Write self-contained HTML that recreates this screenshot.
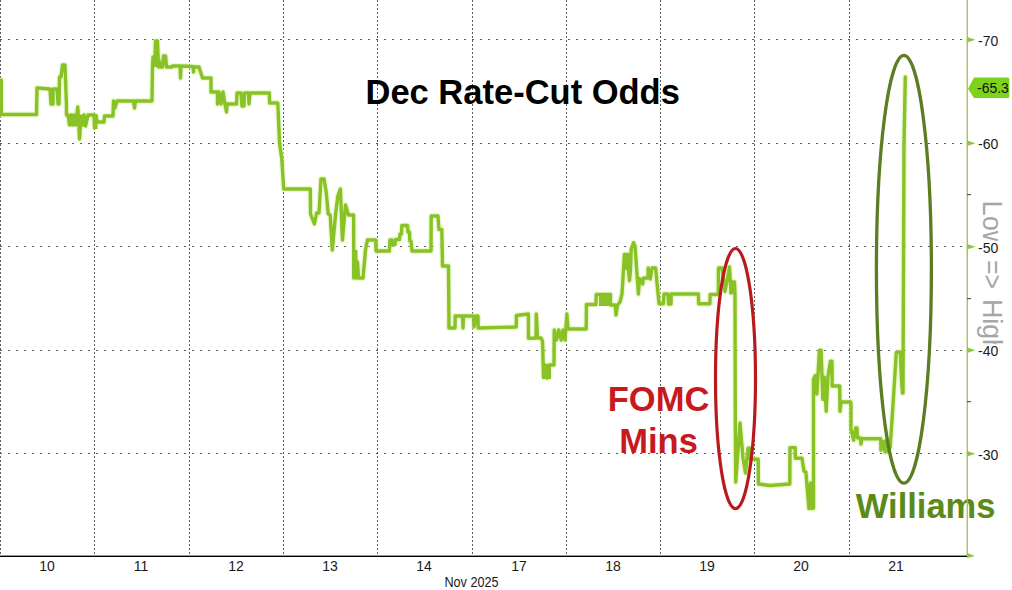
<!DOCTYPE html>
<html><head><meta charset="utf-8"><style>
html,body{margin:0;padding:0;background:#fff;}
svg{display:block;}
text{font-family:"Liberation Sans",sans-serif;}
.yl{font-size:14px;fill:#1a1a1a;}
.xl{font-size:14px;fill:#1a1a1a;}
.big{font-size:34px;font-weight:bold;}
</style></head><body>
<svg width="1012" height="590" viewBox="0 0 1012 590">
<defs>
<pattern id="vd" x="0" y="0" width="4" height="4" patternUnits="userSpaceOnUse"><rect x="0" y="0" width="4" height="2" fill="#5a5a5a"/></pattern>
<pattern id="hd" x="0" y="0" width="8" height="4" patternUnits="userSpaceOnUse"><rect x="0" y="0" width="2" height="4" fill="#5a5a5a"/></pattern>
</defs>
<rect width="1012" height="590" fill="#fff"/>
<rect x="0" y="0" width="1" height="556" fill="url(#vd)"/><rect x="94" y="0" width="1" height="556" fill="url(#vd)"/><rect x="189" y="0" width="1" height="556" fill="url(#vd)"/><rect x="283" y="0" width="1" height="556" fill="url(#vd)"/><rect x="377" y="0" width="1" height="556" fill="url(#vd)"/><rect x="472" y="0" width="1" height="556" fill="url(#vd)"/><rect x="566" y="0" width="1" height="556" fill="url(#vd)"/><rect x="660" y="0" width="1" height="556" fill="url(#vd)"/><rect x="754" y="0" width="1" height="556" fill="url(#vd)"/><rect x="849" y="0" width="1" height="556" fill="url(#vd)"/><rect x="0" y="39" width="967" height="1" fill="url(#hd)"/><rect x="0" y="143" width="967" height="1" fill="url(#hd)"/><rect x="0" y="246" width="967" height="1" fill="url(#hd)"/><rect x="0" y="350" width="967" height="1" fill="url(#hd)"/><rect x="0" y="453" width="967" height="1" fill="url(#hd)"/>
<text x="365.5" y="103.5" class="big" style="font-size:34.5px" fill="#000">Dec Rate-Cut Odds</text>
<text x="607.8" y="411.2" class="big" style="font-size:34.5px" fill="#c8191e">FOMC</text>
<text x="619.3" y="452.6" class="big" style="font-size:34.5px" fill="#c8191e">Mins</text>
<text x="855.8" y="517.8" class="big" style="font-size:34.5px" fill="#5b8a17">Williams</text>
<g transform="translate(983,0) rotate(90)" style="font-size:28px;fill:#a6a6a6"><text x="200.5" y="0" textLength="50" lengthAdjust="spacingAndGlyphs">Low</text><text x="260" y="0" textLength="29" lengthAdjust="spacingAndGlyphs">=&gt;</text><text x="299" y="0" textLength="55" lengthAdjust="spacingAndGlyphs">High</text></g>
<path d="M1.3,80 L1.3,114.5 L36.5,114.5 L37,88 L50,89 L51,104 L53,104 L53,89 L57,89 L58,104 L59,104 L59.5,77 L61,77 L62.5,65 L65,65 L66.4,103.5 L66.5,115 L68,115 L69.5,125 L71,115 L72.5,125 L74,115 L75.5,125 L77.8,107 L79.5,139 L81,117 L82.5,125 L84,115 L85.5,126 L88,115 L94,115 L94.5,128 L96,116 L97.3,122 L104,122 L104.5,116 L113,116 L113.5,101 L115,108 L117,101 L133.5,101 L134.5,108 L135.5,101 L152,101 L152.5,67 L153,57 L155,57 L155.5,41 L157.5,41 L158.5,67 L159,60 L160,67 L162.5,67 L163.5,56 L165.5,56 L166.5,67 L172,67 L172.5,66 L180,66 L180.5,78 L181,66 L193,66.5 L193.5,72 L194,67 L199,67 L202.5,78 L211,78 L211,92 L217.5,92 L217.5,104 L219,92 L221,104 L223,92 L225,104 L226.5,112 L227,104 L236.6,104 L237,93 L241,93 L242,106 L244,106 L244.5,93 L248.5,93 L249,104 L250,93 L269.4,93 L269.6,103 L277.8,103 L279,130 L279.5,143 L281.7,158 L283.7,189 L310.3,189 L310.5,214 L314.4,224 L316.6,213 L319,213 L321,179 L324,179 L326.2,192 L328.2,214 L330.2,215 L332.3,250 L335.3,217 L337.8,196 L340.4,189 L342.4,240 L345.5,205 L348.5,215 L353.6,215 L353.8,278 L355,252 L356.5,278 L357.5,262 L358.5,278 L363,278 L365.5,250 L367.4,240 L375.7,240 L376,251 L389.4,251 L390,240 L392,240 L392.5,244.5 L395,244.5 L395.5,239.5 L399.5,239.5 L400,234 L401.5,234 L401.8,225.5 L407.5,225.5 L408,232 L409.5,232 L409.8,241 L411,241 L412,251 L431,251 L431.2,216 L438,216 L438.9,229.5 L441.8,229.5 L442.5,266 L448.5,266 L449,328 L455,328 L455.2,316 L462.5,316 L463,328 L463.5,316 L473.5,316 L474,327 L476,316 L478,316 L478.2,328 L516.2,327 L516.4,315.5 L528.4,314 L528.5,338.3 L536,338 L536.3,314 L537.5,338 L541,338 L542.5,341 L543.5,377 L545,365 L547,378 L549.2,377 L549.2,365 L554,365 L554.2,330 L556.4,340 L558.7,330 L561.2,340 L563,330 L565,340 L566.9,314 L568,329 L586.2,329 L586.4,304.5 L596,304.5 L596.2,294.5 L610.5,294.5 L610.5,305 L615.2,305 L616,315 L617.5,305 L620,302 L622,294 L624.4,254.5 L628,254.5 L628.5,270 L629.5,280.7 L630.5,270 L631.2,249 L633.6,242.7 L635,246 L638.4,294 L639.5,278.5 L642.7,284 L643.4,278 L648,278 L648.2,268 L650.3,279 L652,268 L655.6,268 L658,293 L659,303.7 L663.4,303.7 L664,294 L668,294 L668.5,304 L671,304 L671.2,294 L698.4,294 L698.6,303.7 L709.9,303.7 L710.1,294.5 L718.3,294.5 L718.5,268 L722,268 L725,291.5 L729.5,267 L731,293 L732,282 L734.5,282 L735,293 L735.3,420 L735.7,482 L740,423 L743,458.5 L745.5,473 L748,448.3 L750,448.3 L750.2,459.3 L758.2,459.3 L758.4,484 L770,485.5 L789.8,484 L790,447.6 L795.2,447.6 L795.4,458.2 L802,458.2 L804,471.2 L805.9,472 L808.9,508.6 L810.5,483 L812,508.6 L813.5,508 L813.5,379 L815.2,375.6 L816.9,394 L819.4,350.2 L821.1,350.2 L822.8,399.3 L824.3,377.3 L826.2,411.2 L827.9,377 L830.4,361.2 L832,361.2 L832.1,386 L839.7,386 L840,411.2 L841,402 L850.8,402 L851,405 L851,429.3 L853.6,440.2 L855.6,428 L857,428 L857.6,438 L860.5,438 L861,444 L862,438.8 L880.7,438.8 L880.9,450.3 L883.4,441.5 L885,452 L885.4,441 L888.1,452 L890.2,447 L892.2,417 L893.6,395.4 L896.3,352.5 L900.3,352 L901.5,379.7 L902.5,393 L903,393 L904,145 L905.3,77" fill="none" stroke="#dff3b0" stroke-width="6" stroke-linejoin="round" stroke-linecap="round" opacity="0.6"/>
<path d="M1.3,80 L1.3,114.5 L36.5,114.5 L37,88 L50,89 L51,104 L53,104 L53,89 L57,89 L58,104 L59,104 L59.5,77 L61,77 L62.5,65 L65,65 L66.4,103.5 L66.5,115 L68,115 L69.5,125 L71,115 L72.5,125 L74,115 L75.5,125 L77.8,107 L79.5,139 L81,117 L82.5,125 L84,115 L85.5,126 L88,115 L94,115 L94.5,128 L96,116 L97.3,122 L104,122 L104.5,116 L113,116 L113.5,101 L115,108 L117,101 L133.5,101 L134.5,108 L135.5,101 L152,101 L152.5,67 L153,57 L155,57 L155.5,41 L157.5,41 L158.5,67 L159,60 L160,67 L162.5,67 L163.5,56 L165.5,56 L166.5,67 L172,67 L172.5,66 L180,66 L180.5,78 L181,66 L193,66.5 L193.5,72 L194,67 L199,67 L202.5,78 L211,78 L211,92 L217.5,92 L217.5,104 L219,92 L221,104 L223,92 L225,104 L226.5,112 L227,104 L236.6,104 L237,93 L241,93 L242,106 L244,106 L244.5,93 L248.5,93 L249,104 L250,93 L269.4,93 L269.6,103 L277.8,103 L279,130 L279.5,143 L281.7,158 L283.7,189 L310.3,189 L310.5,214 L314.4,224 L316.6,213 L319,213 L321,179 L324,179 L326.2,192 L328.2,214 L330.2,215 L332.3,250 L335.3,217 L337.8,196 L340.4,189 L342.4,240 L345.5,205 L348.5,215 L353.6,215 L353.8,278 L355,252 L356.5,278 L357.5,262 L358.5,278 L363,278 L365.5,250 L367.4,240 L375.7,240 L376,251 L389.4,251 L390,240 L392,240 L392.5,244.5 L395,244.5 L395.5,239.5 L399.5,239.5 L400,234 L401.5,234 L401.8,225.5 L407.5,225.5 L408,232 L409.5,232 L409.8,241 L411,241 L412,251 L431,251 L431.2,216 L438,216 L438.9,229.5 L441.8,229.5 L442.5,266 L448.5,266 L449,328 L455,328 L455.2,316 L462.5,316 L463,328 L463.5,316 L473.5,316 L474,327 L476,316 L478,316 L478.2,328 L516.2,327 L516.4,315.5 L528.4,314 L528.5,338.3 L536,338 L536.3,314 L537.5,338 L541,338 L542.5,341 L543.5,377 L545,365 L547,378 L549.2,377 L549.2,365 L554,365 L554.2,330 L556.4,340 L558.7,330 L561.2,340 L563,330 L565,340 L566.9,314 L568,329 L586.2,329 L586.4,304.5 L596,304.5 L596.2,294.5 L610.5,294.5 L610.5,305 L615.2,305 L616,315 L617.5,305 L620,302 L622,294 L624.4,254.5 L628,254.5 L628.5,270 L629.5,280.7 L630.5,270 L631.2,249 L633.6,242.7 L635,246 L638.4,294 L639.5,278.5 L642.7,284 L643.4,278 L648,278 L648.2,268 L650.3,279 L652,268 L655.6,268 L658,293 L659,303.7 L663.4,303.7 L664,294 L668,294 L668.5,304 L671,304 L671.2,294 L698.4,294 L698.6,303.7 L709.9,303.7 L710.1,294.5 L718.3,294.5 L718.5,268 L722,268 L725,291.5 L729.5,267 L731,293 L732,282 L734.5,282 L735,293 L735.3,420 L735.7,482 L740,423 L743,458.5 L745.5,473 L748,448.3 L750,448.3 L750.2,459.3 L758.2,459.3 L758.4,484 L770,485.5 L789.8,484 L790,447.6 L795.2,447.6 L795.4,458.2 L802,458.2 L804,471.2 L805.9,472 L808.9,508.6 L810.5,483 L812,508.6 L813.5,508 L813.5,379 L815.2,375.6 L816.9,394 L819.4,350.2 L821.1,350.2 L822.8,399.3 L824.3,377.3 L826.2,411.2 L827.9,377 L830.4,361.2 L832,361.2 L832.1,386 L839.7,386 L840,411.2 L841,402 L850.8,402 L851,405 L851,429.3 L853.6,440.2 L855.6,428 L857,428 L857.6,438 L860.5,438 L861,444 L862,438.8 L880.7,438.8 L880.9,450.3 L883.4,441.5 L885,452 L885.4,441 L888.1,452 L890.2,447 L892.2,417 L893.6,395.4 L896.3,352.5 L900.3,352 L901.5,379.7 L902.5,393 L903,393 L904,145 L905.3,77" fill="none" stroke="#88c226" stroke-width="3.4" stroke-linejoin="round" stroke-linecap="round"/>
<rect x="729.5" y="281" width="6" height="13" fill="#88c226"/><rect x="152" y="57" width="5" height="10" fill="#88c226"/><rect x="599" y="293" width="13" height="13" fill="#88c226"/><rect x="623" y="253" width="9" height="17" fill="#88c226"/><rect x="542" y="364" width="9" height="15" fill="#88c226"/><rect x="68" y="114.5" width="17" height="10.5" fill="#88c226"/><rect x="93" y="114" width="4.5" height="15" fill="#88c226"/><rect x="352.5" y="250" width="5" height="29" fill="#88c226"/>
<ellipse cx="735.5" cy="378.6" rx="20" ry="130.1" fill="none" stroke="#b81a1e" stroke-width="3.2"/>
<ellipse cx="903.9" cy="269.3" rx="27.5" ry="213.9" fill="none" stroke="#5c7d22" stroke-width="3.3"/>
<rect x="0" y="555.6" width="967" height="1.4" fill="#000"/>
<rect x="966.6" y="0" width="1.3" height="556" fill="#a0bf50"/>
<path d="M967,36.900000000000006 L975.5,39.7 L967,42.5 Z" fill="#8cc63f"/><rect x="977" y="33.7" width="22" height="13" fill="#fff"/><text x="978" y="45.5" class="yl">-70</text><path d="M967,140.5 L975.5,143.3 L967,146.10000000000002 Z" fill="#8cc63f"/><rect x="977" y="137.3" width="22" height="13" fill="#fff"/><text x="978" y="149.10000000000002" class="yl">-60</text><path d="M967,244.0 L975.5,246.8 L967,249.60000000000002 Z" fill="#8cc63f"/><rect x="977" y="240.8" width="22" height="13" fill="#fff"/><text x="978" y="252.60000000000002" class="yl">-50</text><path d="M967,347.5 L975.5,350.3 L967,353.1 Z" fill="#8cc63f"/><rect x="977" y="344.3" width="22" height="13" fill="#fff"/><text x="978" y="356.1" class="yl">-40</text><path d="M967,450.9 L975.5,453.7 L967,456.5 Z" fill="#8cc63f"/><rect x="977" y="447.7" width="22" height="13" fill="#fff"/><text x="978" y="459.5" class="yl">-30</text><rect x="967" y="194" width="4" height="1.2" fill="#556"/><rect x="967" y="298" width="4" height="1.2" fill="#556"/><rect x="967" y="401" width="4" height="1.2" fill="#556"/><path d="M967,553 L975,556 L967,558 Z" fill="#8cc63f"/>
<path d="M968,88.7 L974,77.5 L1008,77.5 Q1009.3,77.5 1009.3,79 L1009.3,96.5 Q1009.3,98 1008,98 L974,98 Z" fill="#7ed31a"/>
<text x="977" y="93" style="font-size:14px;fill:#111">-65.3</text>
<text x="47" y="571" class="xl" text-anchor="middle">10</text>
<text x="141" y="571" class="xl" text-anchor="middle">11</text>
<text x="236" y="571" class="xl" text-anchor="middle">12</text>
<text x="330" y="571" class="xl" text-anchor="middle">13</text>
<text x="424" y="571" class="xl" text-anchor="middle">14</text>
<text x="519" y="571" class="xl" text-anchor="middle">17</text>
<text x="613" y="571" class="xl" text-anchor="middle">18</text>
<text x="707" y="571" class="xl" text-anchor="middle">19</text>
<text x="801" y="571" class="xl" text-anchor="middle">20</text>
<text x="896" y="571" class="xl" text-anchor="middle">21</text>
<text x="444.5" y="587" class="xl" textLength="54" lengthAdjust="spacingAndGlyphs">Nov 2025</text>
</svg>
</body></html>
